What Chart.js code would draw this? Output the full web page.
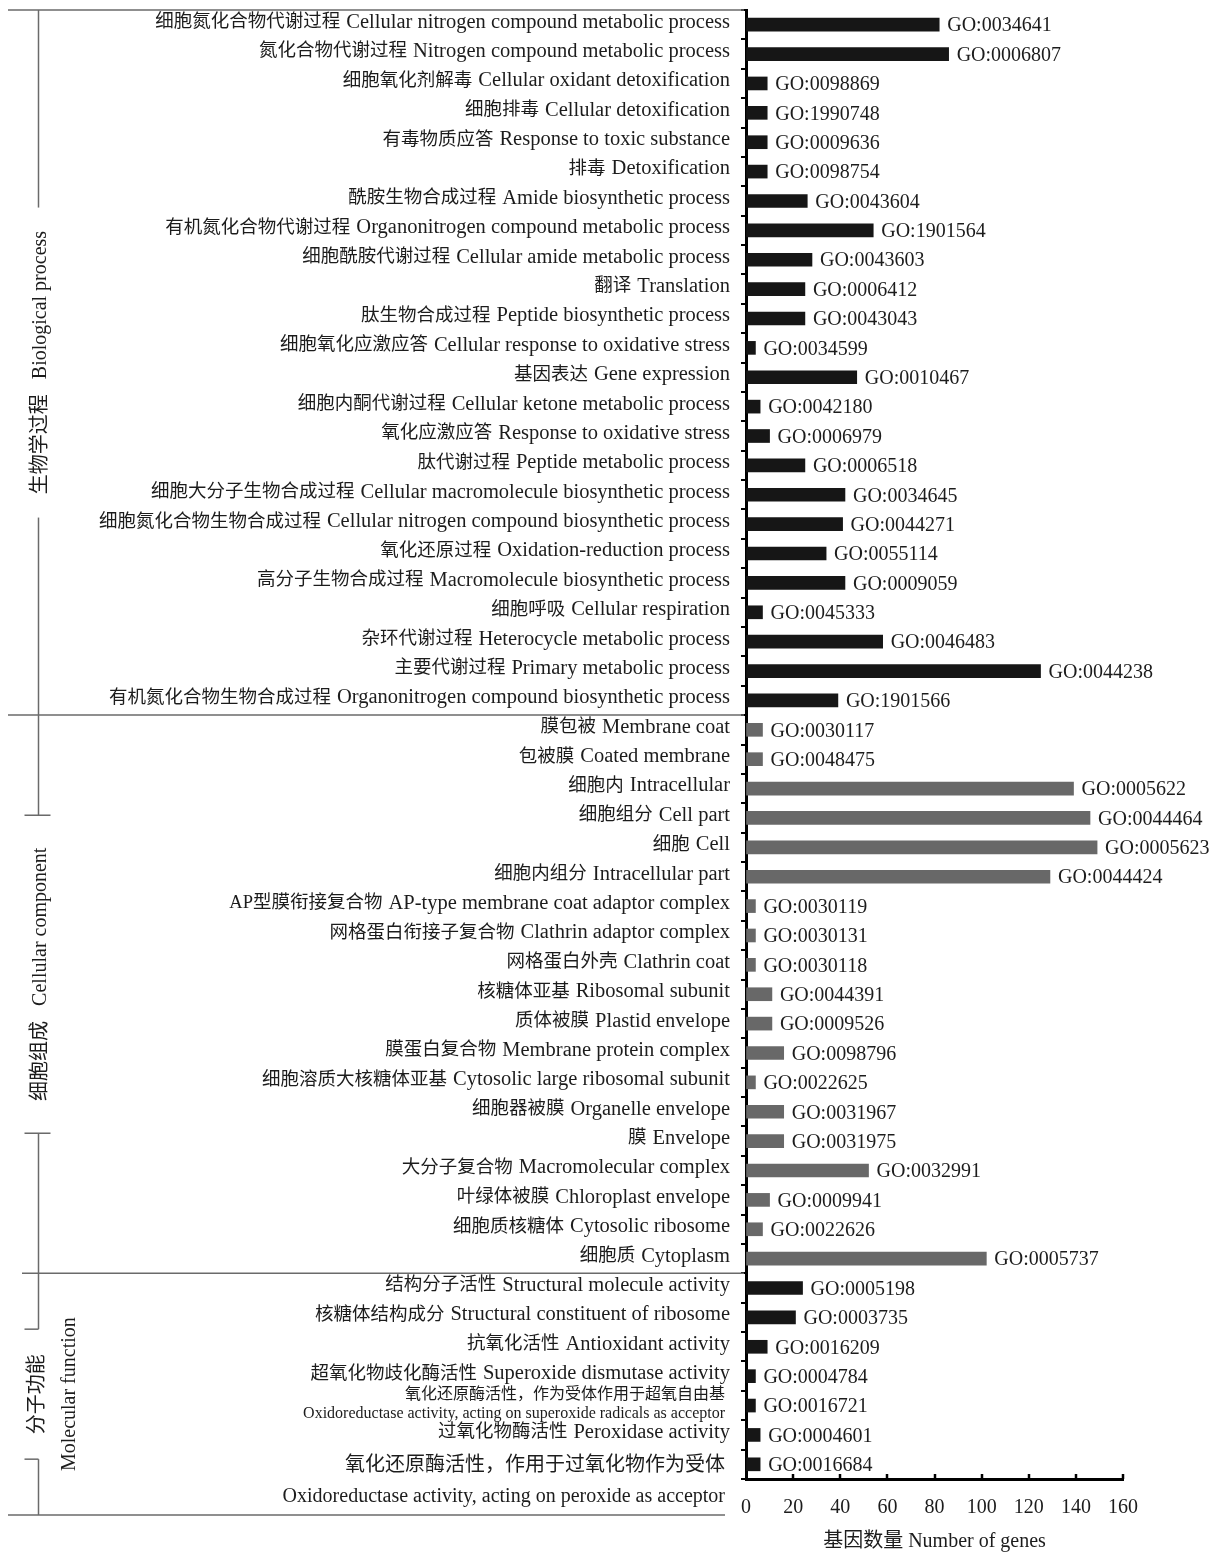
<!DOCTYPE html>
<html lang="zh">
<head>
<meta charset="utf-8">
<title>GO 功能注释 基因数量</title>
<script src="https://cdn.jsdelivr.net/npm/chart.js@4.4.1/dist/chart.umd.min.js"></script>
<style>
  html, body { margin: 0; padding: 0; background: #ffffff; }
  #frame { width: 1211px; height: 1556px; }
</style>
</head>
<body>
<div id="frame"><canvas id="goChart" width="1211" height="1556"></canvas></div>
<script>
// ---- Biological process ----
const bpZh = ['细胞氮化合物代谢过程', '氮化合物代谢过程', '细胞氧化剂解毒', '细胞排毒', '有毒物质应答', '排毒',
  '酰胺生物合成过程', '有机氮化合物代谢过程', '细胞酰胺代谢过程', '翻译', '肽生物合成过程', '细胞氧化应激应答',
  '基因表达', '细胞内酮代谢过程', '氧化应激应答', '肽代谢过程', '细胞大分子生物合成过程', '细胞氮化合物生物合成过程',
  '氧化还原过程', '高分子生物合成过程', '细胞呼吸', '杂环代谢过程', '主要代谢过程', '有机氮化合物生物合成过程'];
const bpEn = ['Cellular nitrogen compound metabolic process', 'Nitrogen compound metabolic process',
  'Cellular oxidant detoxification', 'Cellular detoxification', 'Response to toxic substance', 'Detoxification',
  'Amide biosynthetic process', 'Organonitrogen compound metabolic process', 'Cellular amide metabolic process',
  'Translation', 'Peptide biosynthetic process', 'Cellular response to oxidative stress', 'Gene expression',
  'Cellular ketone metabolic process', 'Response to oxidative stress', 'Peptide metabolic process',
  'Cellular macromolecule biosynthetic process', 'Cellular nitrogen compound biosynthetic process',
  'Oxidation-reduction process', 'Macromolecule biosynthetic process', 'Cellular respiration',
  'Heterocycle metabolic process', 'Primary metabolic process', 'Organonitrogen compound biosynthetic process'];
const bpIds = ['GO:0034641', 'GO:0006807', 'GO:0098869', 'GO:1990748', 'GO:0009636', 'GO:0098754',
  'GO:0043604', 'GO:1901564', 'GO:0043603', 'GO:0006412', 'GO:0043043', 'GO:0034599',
  'GO:0010467', 'GO:0042180', 'GO:0006979', 'GO:0006518', 'GO:0034645', 'GO:0044271',
  'GO:0055114', 'GO:0009059', 'GO:0045333', 'GO:0046483', 'GO:0044238', 'GO:1901566'];
const bpGenes = [82, 86, 9, 9, 9, 9, 26, 54, 28, 25, 25, 4, 47, 6, 10, 25, 42, 41, 34, 42, 7, 58, 125, 39];

// ---- Cellular component ----
const ccZh = ['膜包被', '包被膜', '细胞内', '细胞组分', '细胞', '细胞内组分', 'AP型膜衔接复合物', '网格蛋白衔接子复合物',
  '网格蛋白外壳', '核糖体亚基', '质体被膜', '膜蛋白复合物', '细胞溶质大核糖体亚基', '细胞器被膜', '膜',
  '大分子复合物', '叶绿体被膜', '细胞质核糖体', '细胞质'];
const ccEn = ['Membrane coat', 'Coated membrane', 'Intracellular', 'Cell part', 'Cell', 'Intracellular part',
  'AP-type membrane coat adaptor complex', 'Clathrin adaptor complex', 'Clathrin coat', 'Ribosomal subunit',
  'Plastid envelope', 'Membrane protein complex', 'Cytosolic large ribosomal subunit', 'Organelle envelope',
  'Envelope', 'Macromolecular complex', 'Chloroplast envelope', 'Cytosolic ribosome', 'Cytoplasm'];
const ccIds = ['GO:0030117', 'GO:0048475', 'GO:0005622', 'GO:0044464', 'GO:0005623', 'GO:0044424',
  'GO:0030119', 'GO:0030131', 'GO:0030118', 'GO:0044391', 'GO:0009526', 'GO:0098796', 'GO:0022625',
  'GO:0031967', 'GO:0031975', 'GO:0032991', 'GO:0009941', 'GO:0022626', 'GO:0005737'];
const ccGenes = [7, 7, 139, 146, 149, 129, 4, 4, 4, 11, 11, 16, 4, 16, 16, 52, 10, 7, 102];

// ---- Molecular function ----
const mfZh = ['结构分子活性', '核糖体结构成分', '抗氧化活性', '超氧化物歧化酶活性',
  '氧化还原酶活性，作为受体作用于超氧自由基', '过氧化物酶活性', '氧化还原酶活性，作用于过氧化物作为受体'];
const mfEn = ['Structural molecule activity', 'Structural constituent of ribosome', 'Antioxidant activity',
  'Superoxide dismutase activity', 'Oxidoreductase activity, acting on superoxide radicals as acceptor',
  'Peroxidase activity', 'Oxidoreductase activity, acting on peroxide as acceptor'];
const mfIds = ['GO:0005198', 'GO:0003735', 'GO:0016209', 'GO:0004784', 'GO:0016721', 'GO:0004601', 'GO:0016684'];
const mfGenes = [24, 21, 9, 4, 4, 6, 6];

const groupZh = ['生物学过程', '细胞组成', '分子功能'];
const groupEn = ['Biological process', 'Cellular component', 'Molecular function'];
const xTickValues = [0, 20, 40, 60, 80, 100, 120, 140, 160];
const xTitle = '基因数量 Number of genes';

// ---- styling ----
const INK = '#1c1c1c';
const RULE = '#6a6a6a';
const DARK_BAR = '#161616';
const GREY_BAR = '#686868';
const FAMILY = "'Liberation Serif', 'Times New Roman', 'Noto Sans CJK SC', serif";

const allZh = [...bpZh, ...ccZh, ...mfZh];
const allEn = [...bpEn, ...ccEn, ...mfEn];
const allIds = [...bpIds, ...ccIds, ...mfIds];
const allGenes = [...bpGenes, ...ccGenes, ...mfGenes];
const groupSizes = [bpGenes.length, ccGenes.length, mfGenes.length];
const barColors = [
  ...bpGenes.map(() => DARK_BAR),
  ...ccGenes.map(() => GREY_BAR),
  ...mfGenes.map(() => DARK_BAR)
];

// Term names on the left of the category axis (Chinese + English)
const termLabels = {
  id: 'termLabels',
  afterDraw(chart) {
    const { ctx, scales: { y } } = chart;
    const right = 730;
    const enFont = `20.5px ${FAMILY}`;
    const zhFont = `18.5px ${FAMILY}`;
    const last = allZh.length - 1;
    ctx.save();
    ctx.fillStyle = INK;
    ctx.textAlign = 'right';
    ctx.textBaseline = 'middle';
    allZh.forEach((zh, i) => {
      const en = allEn[i];
      const cy = y.getPixelForValue(i) - 2.5;
      ctx.font = enFont;
      const enW = ctx.measureText(en).width;
      ctx.font = zhFont;
      const zhW = ctx.measureText(zh).width;
      if (zhW + 6 + enW <= right - 90) {
        ctx.font = enFont;
        ctx.fillText(en, right, cy);
        ctx.font = zhFont;
        ctx.fillText(zh, right - enW - 6, cy);
      } else if (i === last) {
        // bottom row: the English name hangs below the axis
        ctx.font = `20px ${FAMILY}`;
        ctx.fillText(zh, right - 5, cy + 4);
        ctx.fillText(en, right - 5, cy + 35);
      } else {
        ctx.font = `16px ${FAMILY}`;
        ctx.fillText(zh, right - 5, cy - 8);
        ctx.fillText(en, right - 5, cy + 11);
      }
    });
    ctx.restore();
  }
};

// GO identifiers at the end of each bar
const goIds = {
  id: 'goIds',
  afterDatasetsDraw(chart) {
    const { ctx } = chart;
    const meta = chart.getDatasetMeta(0);
    ctx.save();
    ctx.fillStyle = INK;
    ctx.font = `20px ${FAMILY}`;
    ctx.textAlign = 'left';
    ctx.textBaseline = 'middle';
    meta.data.forEach((bar, i) => {
      ctx.fillText(allIds[i], bar.x + 8, bar.y + 1.5);
    });
    ctx.restore();
  }
};

// Inward tick marks on the value axis
const innerTicks = {
  id: 'innerTicks',
  afterDraw(chart) {
    const { ctx, chartArea, scales: { x } } = chart;
    ctx.save();
    ctx.strokeStyle = '#000';
    ctx.lineWidth = 2.5;
    x.ticks.forEach(t => {
      if (t.value === 0) return;
      const px = Math.round(x.getPixelForValue(t.value));
      ctx.beginPath();
      ctx.moveTo(px, chartArea.bottom);
      ctx.lineTo(px, chartArea.bottom - 5);
      ctx.stroke();
    });
    ctx.restore();
  }
};

// Ontology brackets and names in the left margin
const ontologyBrackets = {
  id: 'ontologyBrackets',
  afterDraw(chart) {
    const { ctx, chartArea, scales: { y } } = chart;
    const edge = i => y.getPixelForValue(i - 0.5);
    let start = 0;
    const spans = groupSizes.map(n => {
      const s = [edge(start), edge(start + n)];
      start += n;
      return s;
    });
    const bottomRule = chartArea.bottom + 36;
    spans[2][1] = bottomRule;
    const lineX = 38.5;

    ctx.save();
    ctx.strokeStyle = RULE;
    ctx.lineWidth = 1.5;
    const seg = (x1, y1, x2, y2) => {
      ctx.beginPath();
      ctx.moveTo(x1, y1);
      ctx.lineTo(x2, y2);
      ctx.stroke();
    };
    seg(8, spans[0][0], chartArea.left - 2, spans[0][0]);
    seg(8, spans[1][0], chartArea.left - 2, spans[1][0]);
    seg(22, spans[2][0], chartArea.left - 2, spans[2][0]);
    seg(8, bottomRule, 725, bottomRule);

    // gap half-heights and vertical shift of each name, plus end-cap reach left/right
    const layout = [
      { half: 155, shift: 0, capL: 0, capR: 0 },
      { half: 159, shift: -20, capL: 14, capR: 12 },
      { half: 65, shift: 0, capL: 14, capR: 0 }
    ];
    spans.forEach(([top, bottom], g) => {
      const L = layout[g];
      const mid = (top + bottom) / 2 + L.shift;
      const gTop = mid - L.half;
      const gBot = mid + L.half;
      seg(lineX, top, lineX, gTop);
      seg(lineX, gBot, lineX, bottom);
      if (L.capL || L.capR) {
        seg(lineX - L.capL, gTop, lineX + L.capR, gTop);
        seg(lineX - L.capL, gBot, lineX + L.capR, gBot);
      }
      ctx.fillStyle = INK;
      ctx.font = `20px ${FAMILY}`;
      ctx.textAlign = 'center';
      ctx.textBaseline = 'middle';
      if (g < 2) {
        ctx.save();
        ctx.translate(41, mid);
        ctx.rotate(-Math.PI / 2);
        ctx.fillText(groupZh[g] + '   ' + groupEn[g], 0, 0);
        ctx.restore();
      } else {
        ctx.save();
        ctx.translate(38, mid);
        ctx.rotate(-Math.PI / 2);
        ctx.fillText(groupZh[g], 0, 0);
        ctx.restore();
        ctx.save();
        ctx.translate(70, mid);
        ctx.rotate(-Math.PI / 2);
        ctx.fillText(groupEn[g], 0, 0);
        ctx.restore();
      }
    });
    ctx.restore();
  }
};

new Chart(document.getElementById('goChart'), {
  type: 'bar',
  data: {
    labels: allIds,
    datasets: [{
      label: xTitle,
      data: allGenes,
      backgroundColor: barColors,
      borderWidth: 0,
      barThickness: 13
    }]
  },
  options: {
    indexAxis: 'y',
    responsive: false,
    animation: false,
    devicePixelRatio: 1,
    layout: { padding: { top: 10, right: 88, bottom: 0, left: 0 } },
    plugins: { legend: { display: false }, tooltip: { enabled: false } },
    scales: {
      x: {
        type: 'linear',
        min: 0,
        max: 160,
        afterBuildTicks(scale) { scale.ticks = xTickValues.map(v => ({ value: v })); },
        afterFit(scale) { scale.height = 77; },
        grid: { drawOnChartArea: false, drawTicks: false },
        border: { display: true, color: '#000', width: 3 },
        ticks: { color: INK, padding: 17, font: { family: FAMILY, size: 20 } },
        title: {
          display: true,
          text: xTitle,
          color: INK,
          font: { family: FAMILY, size: 20 },
          padding: { top: 0, bottom: 2 }
        }
      },
      y: {
        type: 'category',
        afterFit(scale) { scale.width = 746; },
        grid: { drawOnChartArea: false, drawTicks: true, tickLength: 5, color: '#000', lineWidth: 2 },
        border: { display: true, color: '#000', width: 3 },
        ticks: { display: false, autoSkip: false }
      }
    }
  },
  plugins: [termLabels, goIds, innerTicks, ontologyBrackets]
});
</script>
</body>
</html>
